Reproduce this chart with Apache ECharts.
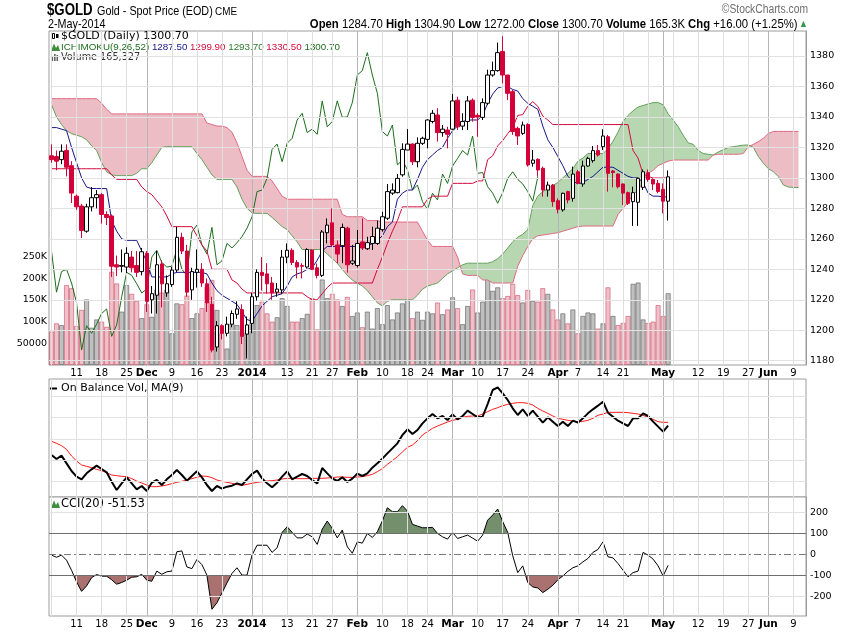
<!DOCTYPE html>
<html><head><meta charset="utf-8">
<script src="https://cdn.jsdelivr.net/npm/echarts@6/dist/echarts.min.js"></script>
<style>html,body{margin:0;padding:0;background:#fff}#c{width:850px;height:633px}</style>
</head><body><div id="c"></div>
<script>
// ---------- categories (trading days incl. future cloud projection) ----------
const dates = [
'2013-11-04','2013-11-05','2013-11-06','2013-11-07','2013-11-08','2013-11-11','2013-11-12','2013-11-13','2013-11-14','2013-11-15',
'2013-11-18','2013-11-19','2013-11-20','2013-11-21','2013-11-22','2013-11-25','2013-11-26','2013-11-27','2013-11-29','2013-12-02',
'2013-12-03','2013-12-04','2013-12-05','2013-12-06','2013-12-09','2013-12-10','2013-12-11','2013-12-12','2013-12-13','2013-12-16',
'2013-12-17','2013-12-18','2013-12-19','2013-12-20','2013-12-23','2013-12-24','2013-12-26','2013-12-27','2013-12-30','2013-12-31',
'2014-01-02','2014-01-03','2014-01-06','2014-01-07','2014-01-08','2014-01-09','2014-01-10','2014-01-13','2014-01-14','2014-01-15',
'2014-01-16','2014-01-17','2014-01-21','2014-01-22','2014-01-23','2014-01-24','2014-01-27','2014-01-28','2014-01-29','2014-01-30',
'2014-01-31','2014-02-03','2014-02-04','2014-02-05','2014-02-06','2014-02-07','2014-02-10','2014-02-11','2014-02-12','2014-02-13',
'2014-02-14','2014-02-18','2014-02-19','2014-02-20','2014-02-21','2014-02-24','2014-02-25','2014-02-26','2014-02-27','2014-02-28',
'2014-03-03','2014-03-04','2014-03-05','2014-03-06','2014-03-07','2014-03-10','2014-03-11','2014-03-12','2014-03-13','2014-03-14',
'2014-03-17','2014-03-18','2014-03-19','2014-03-20','2014-03-21','2014-03-24','2014-03-25','2014-03-26','2014-03-27','2014-03-28',
'2014-03-31','2014-04-01','2014-04-02','2014-04-03','2014-04-04','2014-04-07','2014-04-08','2014-04-09','2014-04-10','2014-04-11',
'2014-04-14','2014-04-15','2014-04-16','2014-04-17','2014-04-21','2014-04-22','2014-04-23','2014-04-24','2014-04-25','2014-04-28',
'2014-04-29','2014-04-30','2014-05-01','2014-05-02','2014-05-05','2014-05-06','2014-05-07','2014-05-08','2014-05-09','2014-05-12',
'2014-05-13','2014-05-14','2014-05-15','2014-05-16','2014-05-19','2014-05-20','2014-05-21','2014-05-22','2014-05-23','2014-05-27',
'2014-05-28','2014-05-29','2014-05-30','2014-06-02','2014-06-03','2014-06-04','2014-06-05','2014-06-06','2014-06-09','2014-06-10',
'2014-06-11'];

// ---------- date axis tick labels ----------
const tickDates = ['2013-11-11','2013-11-18','2013-11-25','2013-12-02','2013-12-09','2013-12-16','2013-12-23','2014-01-02','2014-01-13','2014-01-21',
'2014-01-27','2014-02-03','2014-02-10','2014-02-18','2014-02-24','2014-03-03','2014-03-10','2014-03-17','2014-03-24','2014-04-01',
'2014-04-07','2014-04-14','2014-04-21','2014-05-01','2014-05-12','2014-05-19','2014-05-27','2014-06-02','2014-06-09'];
const tickTexts = ['11','18','25','Dec','9','16','23','2014','13','21','27','Feb','10','18','24','Mar','10','17','24','Apr','7','14','21','May','12','19','27','Jun','9'];
const monthTickTexts = ['Dec','2014','Feb','Mar','Apr','May','Jun'];
const extraWeekLines = ['2013-11-04','2014-01-06','2014-04-28','2014-05-05'];

// ---------- price (OHLC) ----------
const opens = [1314.5,1314,1312,1318,1308,1288,1281.5,1265,1281,1287,
1289,1276,1275,1243,1242,1241.5,1248,1242.5,1238.5,1250.5,
1220,1223,1243.5,1224.5,1230,1239.5,1261,1252,1226.5,1238,
1240,1230.5,1217,1189,1203,1198,1204,1210.5,1213.5,1197.5,
1204.5,1222,1238,1237,1231,1225,1226.5,1248,1252.5,1244.5,
1242.5,1241.5,1252.7,1241,1236,1264,1270.5,1256,1255.5,1267,
1244,1242.5,1258,1253.5,1257,1257,1266,1273.5,1290,1290.3,
1302,1318.3,1322.2,1310.6,1322.7,1325.3,1337,1341.3,1329.7,1331.4,
1332,1351,1334,1337,1351,1341,1339.7,1349,1367.5,1370.4,
1382.9,1367.5,1356.6,1332.5,1329.2,1335,1309.6,1312.2,1306.3,1292,
1295.3,1285,1279,1291,1286.6,1304,1296,1307.8,1311.3,1317.9,
1320.5,1327,1304.5,1302.5,1296,1290.3,1284.4,1284,1293.8,1303.4,
1299,1296.4,1292.5,1284.7];
const highs = [1322,1318,1322,1322,1311,1289,1283,1283,1294,1292,
1290,1278,1276,1249,1253,1254.5,1252,1252,1254,1252,
1229,1252,1246,1236,1241.5,1268,1264,1256,1241,1253,
1244,1234,1222,1206,1204,1209,1213,1219,1217,1209,
1224.5,1240,1248,1244,1235,1231,1252.7,1257,1253.8,1246,
1244,1253.8,1253,1243.8,1265.8,1273.4,1280,1259,1270,1268,
1256,1265.8,1273.4,1261.4,1268,1272,1277.8,1296,1296.4,1302.5,
1322.7,1332,1322.7,1326.6,1327,1338.4,1344.5,1345.7,1334.7,1333.6,
1355,1353.3,1342.4,1353.7,1352.2,1342.4,1352.2,1371,1376.3,1388.8,
1393,1367.5,1357.7,1333.6,1336.9,1335.8,1318.3,1312.8,1307.4,1297.5,
1296,1286.6,1290.3,1291.6,1307.4,1305.2,1311.3,1313.9,1320.9,1321.6,
1331.9,1328.2,1305.2,1303,1296.4,1291,1294.2,1300,1305.5,1305.5,
1299.7,1298.6,1296.4,1304.9];
const lows = [1310,1305,1309,1301,1283.5,1279,1260.5,1264,1278,1280,
1270,1269,1235,1235.5,1238,1237.5,1238,1235,1236,1212,
1211,1211,1215,1222,1228.5,1238,1250,1222,1220,1228,
1228.5,1212,1185.5,1186,1194,1196,1202,1207.5,1191,1181.5,
1198,1219.5,1226,1224,1220,1222,1224,1244,1242.8,1234,
1234,1240.5,1239.5,1234,1235,1257,1254.8,1244,1244,1237.8,
1242.8,1241.3,1252.7,1252.7,1252.7,1256,1264.7,1272.4,1288.8,1289.9,
1300.8,1318.3,1308.5,1306.9,1321.6,1319.4,1335.8,1323.8,1327,1319.4,
1331.4,1331.4,1331.4,1331.4,1336.9,1327,1338,1347.8,1366.4,1369.7,
1362,1351,1328.2,1321.6,1328.2,1307.4,1307.4,1300.8,1287.7,1287.7,
1281.1,1276.7,1277.8,1283.3,1284.4,1296,1294.2,1307.4,1310,1313.9,
1318.3,1291,1293.8,1293.1,1282.2,1282.2,1268.5,1268.5,1292,1297.5,
1292,1289.9,1276.7,1272];
const closes = [1312,1311,1317.5,1307,1290,1281,1265.5,1281,1287,1289,
1276,1274,1242,1241.5,1242.5,1250.5,1241,1238,1251.5,1219,
1224,1243,1230.5,1230.5,1239.5,1261,1252,1225,1238.5,1240,
1231,1218,1187,1203,1198,1204,1211,1214,1196,1203.5,
1222,1238,1236,1230.5,1224.5,1227,1248,1252.5,1244.5,1241.5,
1242,1253,1240,1236,1264.5,1269,1256,1250,1267.5,1243,
1245.5,1257,1254,1257.5,1261.5,1267,1274.5,1291,1292,1299.7,
1318.7,1322.2,1310.6,1322.7,1326,1338,1342.4,1329.7,1332,1328.6,
1350.5,1333.5,1337,1350.5,1339.7,1340,1349.4,1367.5,1370.4,1382.2,
1367.5,1355.5,1330.4,1327.5,1334.7,1308.5,1311.7,1305.2,1292,1295.3,
1284.4,1279.4,1289.9,1285.5,1302.5,1296.4,1307.8,1312.8,1317.9,1315,
1327.5,1303,1303.5,1294.2,1290,1283.3,1290.3,1299.7,1304,1299,
1296,1291,1284.7,1300.7];

// ---------- volume ----------
const volumes = [77000,96000,92000,184000,177000,90000,127000,151000,86000,105000,
100000,88000,215000,188000,123000,184000,164000,148000,108000,140000,
111000,174000,167000,174000,73000,142000,140000,160000,108000,119000,
131000,180000,196000,127000,73000,38000,96000,92000,77000,73000,
110000,138000,146000,119000,100000,110000,154000,136000,100000,100000,
108000,118000,154000,82000,197000,154000,164000,151000,136000,157000,
113000,121000,87000,123000,84000,131000,94000,138000,105000,121000,
142000,174000,108000,123000,104000,123000,119000,144000,117000,128000,
156000,131000,94000,136000,174000,121000,146000,213000,171000,179000,
154000,159000,187000,161000,144000,173000,148000,146000,177000,164000,
128000,105000,119000,96000,128000,73000,113000,121000,119000,84000,
96000,179000,113000,92000,97000,113000,187000,190000,105000,97000,
100000,138000,113000,165327];

// ---------- Ichimoku (9,26,52) ----------
const tenkan = [1333,1333,1332,1331,1320,1310,1300,1294,1293,1293,
1293,1293,1272,1265,1260,1259,1259,1259,1252,1245,
1235,1235,1235,1235,1237,1238,1238,1238,1238,1238,
1238,1237,1231,1226,1223,1221,1219,1217,1212,1207,
1206,1211,1216,1219,1222,1223,1224,1229,1235,1237,
1238,1240,1241,1246,1252,1255,1255,1255,1255,1255,
1255,1255,1255,1255,1257,1259,1262,1268,1271,1286,
1290,1292,1292,1299,1307,1312,1315,1318,1320,1326,
1331,1334,1337,1338,1338,1338,1341,1349,1355,1359,
1360,1360,1358,1357,1352,1349,1347,1345,1334,1325,
1320,1314,1308,1301,1298,1296,1297,1299,1301,1304,
1307,1307,1307,1305,1303,1301,1300,1300,1297,1290,
1288,1288,1287.5,1287.5];
const kijun = [1306,1306,1306,1306,1306,1306,1306,1306,1306,1306,
1306,1306,1302,1299,1299,1299,1299,1299,1294,1291,
1289,1285,1281,1275,1268,1268,1268,1268,1268,1262,
1256,1252,1240,1240,1240,1240,1233,1231,1227,1224.5,
1224.5,1224.5,1224.5,1224.5,1224.5,1224.5,1224.5,1224.5,1224.5,1224.5,
1224.5,1222,1220,1220,1224,1228,1231,1231,1231,1231,
1231,1231,1231,1231,1231,1240,1248,1257,1265,1272,
1281,1281,1281,1281,1281,1286,1288,1288,1288,1288,
1296.4,1296.4,1296.4,1296.4,1296.4,1298,1298,1312,1314.5,1321,
1324.5,1329,1333,1341,1341.5,1347,1350,1347,1340.5,1338,
1335,1335,1335,1335,1335,1335,1335,1335,1335,1335,
1335,1335,1335,1335,1335,1335,1318,1313,1302.5,1301,
1299.9,1299.9,1299.9,1299.9];
const senkouA = [1348,1340,1335,1331,1329,1328,1327,1325,1321,1318,
1310,1304,1302,1301.5,1301.5,1301.5,1301.5,1303,1306,1306,
1310,1315,1320,1320.5,1320.5,1320.5,1320.5,1320.5,1320.5,1316,
1312,1307,1302,1299,1299,1299,1299,1294,1286,1280,
1277,1276.7,1276.7,1276.7,1274,1271,1268,1266,1262,1258,
1253,1253,1253,1253,1253,1250,1247,1244,1240,1236,
1233,1231,1229,1226,1222,1218,1216,1219,1220,1220,
1220,1220,1220,1223,1227,1229,1230,1231,1234,1237,
1239,1241,1243,1244,1244,1244,1244,1244,1245,1247,
1250,1254,1258,1261,1263,1266,1282,1288,1291,1293,
1295,1297,1300,1303,1306,1311,1313,1316,1316,1316,
1316,1319,1324,1330,1337,1341,1344,1346.5,1347.5,1348.5,
1349.4,1349.4,1348,1342,1338,1333.6,1328,1323,1322,1318,
1316,1315.5,1315,1317,1318.5,1320,1320.5,1321,1321.5,1321.6,
1320,1314,1309.6,1306,1304,1300.8,1295.3,1294,1293.7,1293.7];
const senkouB = [1352,1352,1352,1352,1352,1352,1352,1352,1352,1352,
1349,1345,1342,1342,1342,1342,1342,1342,1342,1342,
1342,1342,1342,1342,1342,1342,1342,1342,1342,1342,
1342,1336,1335,1334,1334,1333,1330,1323,1314,1305,
1301,1301,1301,1301,1298,1293,1288,1286,1286,1286,
1286,1286,1286,1286,1286,1286,1286,1286,1276,1274.5,
1274.5,1274.5,1274.5,1272,1272,1272,1271,1271,1271,1271,
1271,1271,1271,1271,1265,1259,1255,1255,1255,1255,
1255,1248,1237,1236,1236,1236,1233,1233,1231,1231,
1231,1231,1231,1242,1249,1255,1260,1262,1262.5,1263,
1263.5,1264,1265,1266,1267,1268,1268.4,1268.4,1268.4,1268.4,
1268.4,1268.4,1268.4,1276,1280,1284,1289,1292,1297,1303,
1305,1308,1309.5,1311,1311.7,1311.7,1311.7,1311.7,1311.7,1311.7,
1311.7,1311.7,1315,1315.5,1315.5,1315.5,1315.5,1315.5,1316,1320.5,
1322,1323.8,1326,1329.2,1330.5,1330.5,1330.5,1330.5,1330.5,1330.5];
const chikouShift = 26;

// ---------- On Balance Volume and MA(9) (relative units) ----------
const obv = [315,303,313,290,267,250,242,260,272,283,
273,263,235,210,230,248,230,212,222,207,
232,240,225,242,255,270,255,238,252,266,
248,225,207,222,214,220,223,230,225,242,
258,268,245,230,218,232,250,266,242,250,
258,252,240,230,276,260,245,237,248,234,
244,259,252,260,277,290,304,320,335,350,
375,392,378,390,410,425,438,425,432,420,
437,422,432,448,438,428,430,468,510,518,
500,480,455,435,452,432,448,430,412,428,
415,402,415,402,418,412,425,440,452,463,
475,442,430,418,410,402,425,425,440,432,
415,400,385,403];
const obvMA = [356,350,343,332,312,297,285,281,277,272,
268,262,255,253,251,250,244,237,231,225,
220,220,222,225,229,233,236,240,244,248,
252,251,247,240,236,233,230,226,224,227,
230,233,235,237,238,240,243,245,245,244,
244,244,245,245,245,246,247,249,249,248,
248,249,250,253,257,265,274,287,298,310,
324,338,345,358,375,385,395,402,408,414,
419,422,428,431,432,432,438,445,452,457,
463,467,470,472,472,470,465,455,447,440,
432,425,422,419,417,415,416,419,425,434,
438,443,443,443,443,442,440,438,434,428,
422,415,413,413];
const obvGridValues = [235,299,363,427,491];

// ---------- CCI(20) ----------
const cci = [-3,-13,-3,-27,-75,-130,-175,-149,-110,-95,
-103,-103,-120,-141,-133,-122,-108,-106,-94,-122,
-127,-79,-94,-82,-79,13,17,-59,-67,-24,
-48,-98,-260,-229,-183,-135,-90,-63,-98,-98,
-3,44,44,44,10,32,105,132,105,79,
79,97,84,48,120,159,124,79,116,37,
6,60,54,100,81,108,160,222,203,203,
232,206,143,135,127,127,129,100,84,73,
105,76,84,92,78,63,92,163,187,216,
156,105,-6,-86,-54,-133,-154,-159,-181,-165,
-146,-120,-102,-80,-63,-54,-35,-19,10,24,
60,-11,-16,-43,-75,-106,-86,-79,10,-3,
-22,-54,-102,-51.53];

// ---------- axis tick labels ----------
const priceTicks = [1180,1200,1220,1240,1260,1280,1300,1320,1340,1360,1380];
const volumeTicks = [50000,100000,150000,200000,250000];
const cciTicks = [-200,-100,0,100,200];

// ================= rendering =================
const RED = '#d3003a';
const PINK_FILL = '#ecbdc5', GREEN_FILL = '#b6d7b0';
const FONT = 'DejaVu Sans';
const chart = echarts.init(document.getElementById('c'), null, {renderer: 'canvas'});

const tickSet = new Set(tickDates);
const monthLineDates = tickDates.filter((d, k) => monthTickTexts.includes(tickTexts[k]));
const weekLineDates = tickDates.filter((d, k) => !monthTickTexts.includes(tickTexts[k])).concat(extraWeekLines);

function vLines() {
  const out = [];
  weekLineDates.forEach(d => out.push({xAxis: d, lineStyle: {color: '#dedede', width: 1, type: 'solid'}}));
  monthLineDates.forEach(d => out.push({xAxis: d, lineStyle: {color: '#b5b5b5', width: 1, type: 'solid'}}));
  return out;
}
function gridHost(xi, yi, hLines) {
  return {
    type: 'line', xAxisIndex: xi, yAxisIndex: yi, data: dates.map(() => null), silent: true, z: 0,
    symbol: 'none', lineStyle: {width: 0},
    markLine: {silent: true, symbol: ['none', 'none'], label: {show: false}, animation: false,
      emphasis: {disabled: true}, data: vLines().concat(hLines)}
  };
}

const candleData = opens.map((o, i) => {
  const up = closes[i] >= o;
  const st = up ? {color: '#ffffff', color0: '#ffffff', borderColor: '#000000', borderColor0: '#000000'}
                : {color: RED, color0: RED, borderColor: RED, borderColor0: RED};
  return {value: [o, closes[i], lows[i], highs[i]], itemStyle: st};
});
const volumeData = volumes.map((v, i) => {
  const down = i === 0 ? closes[0] < opens[0] : closes[i] < closes[i - 1];
  return {value: v, itemStyle: down
    ? {color: 'rgba(214,80,104,0.36)', borderColor: 'rgba(200,70,95,0.7)', borderWidth: 0.8}
    : {color: 'rgba(110,110,110,0.43)', borderColor: 'rgba(90,90,90,0.75)', borderWidth: 0.8}};
});

function cloudRender(params, api) {
  const children = [];
  let ptsA = [], ptsB = [], sign = null;
  const flush = () => {
    if (ptsA.length > 1) children.push({type: 'polygon', shape: {points: ptsA.concat(ptsB.slice().reverse())},
      style: {fill: sign >= 0 ? GREEN_FILL : PINK_FILL}});
  };
  for (let i = 0; i < senkouA.length; i++) {
    const a = api.coord([i, senkouA[i]]), b = api.coord([i, senkouB[i]]);
    const d = senkouA[i] - senkouB[i];
    const s = d > 0 ? 1 : (d < 0 ? -1 : 0);
    if (sign === null) { sign = s || 1; ptsA.push(a); ptsB.push(b); continue; }
    if (s !== 0 && s !== sign) {
      const dp = senkouA[i - 1] - senkouB[i - 1];
      const t = dp / (dp - d);
      const pa = ptsA[ptsA.length - 1];
      const c = [pa[0] + t * (a[0] - pa[0]), pa[1] + t * (a[1] - pa[1])];
      ptsA.push(c); ptsB.push(c);
      flush();
      ptsA = [c]; ptsB = [c]; sign = s;
    }
    ptsA.push(a); ptsB.push(b);
  }
  flush();
  return {type: 'group', children};
}

function threshPolys(api, arr, T, above) {
  const polys = []; let cur = null;
  const yT = api.coord([0, T])[1];
  const inside = v => above ? v > T : v < T;
  for (let i = 0; i < arr.length; i++) {
    const v = arr[i], p = api.coord([i, v]);
    if (inside(v)) {
      if (!cur) {
        if (i > 0) {
          const vp = arr[i - 1], pp = api.coord([i - 1, vp]);
          const t = (T - vp) / (v - vp);
          cur = [[pp[0] + t * (p[0] - pp[0]), yT]];
        } else cur = [[p[0], yT]];
      }
      cur.push(p);
    } else if (cur) {
      const vp = arr[i - 1], pp = api.coord([i - 1, vp]);
      const t = (T - vp) / (v - vp);
      cur.push([pp[0] + t * (p[0] - pp[0]), yT]);
      polys.push(cur); cur = null;
    }
  }
  if (cur) { cur.push([cur[cur.length - 1][0], yT]); polys.push(cur); }
  return polys;
}

const xLabel = {
  interval: (idx, val) => tickSet.has(val),
  formatter: val => { const t = tickTexts[tickDates.indexOf(val)]; return monthTickTexts.includes(t) ? '{b|' + t + '}' : t; },
  rich: {b: {fontWeight: 'bold', fontSize: 10.5, fontFamily: FONT, color: '#000'}},
  fontSize: 10, color: '#000', margin: 3, fontFamily: FONT
};
function xAxisFor(gi, withLabels) {
  return {type: 'category', gridIndex: gi, data: dates, boundaryGap: true,
    axisLine: {show: false}, axisTick: {show: false}, splitLine: {show: false},
    axisLabel: withLabels ? xLabel : {show: false}};
}

const L = 49, W = 757;
const option = {
  animation: false,
  backgroundColor: '#ffffff',
  textStyle: {fontFamily: FONT},
  grid: [
    {left: L, top: 31, width: W, height: 334, show: true, borderColor: '#9c9c9c', borderWidth: 1, backgroundColor: '#fff'},
    {left: L, top: 379, width: W, height: 118, show: true, borderColor: '#9c9c9c', borderWidth: 1, backgroundColor: '#fff'},
    {left: L, top: 497, width: W, height: 119, show: true, borderColor: '#9c9c9c', borderWidth: 1, backgroundColor: '#fff'}
  ],
  xAxis: [xAxisFor(0, true), xAxisFor(1, false), xAxisFor(2, true)],
  yAxis: [
    {type: 'value', gridIndex: 0, position: 'right', min: 1177.2, max: 1396.4,
      axisLine: {show: true, lineStyle: {color: '#9c9c9c'}}, axisTick: {show: false}, splitLine: {show: false},
      axisLabel: {customValues: priceTicks, fontSize: 9.5, color: '#000', margin: 4, fontFamily: FONT,
        formatter: v => String(v)}},
    {type: 'value', gridIndex: 0, position: 'left', min: 0, max: 769600,
      axisLine: {show: false}, axisTick: {show: false}, splitLine: {show: false},
      axisLabel: {customValues: volumeTicks, fontSize: 9.5, color: '#000', margin: 2, fontFamily: FONT,
        formatter: v => v === 50000 ? '50000' : (v / 1000) + 'K'}},
    {type: 'value', gridIndex: 1, min: 189, max: 543, axisLine: {show: false}, axisTick: {show: false},
      splitLine: {show: false}, axisLabel: {show: false}},
    {type: 'value', gridIndex: 2, position: 'right', min: -292, max: 273,
      axisLine: {show: true, lineStyle: {color: '#9c9c9c'}}, axisTick: {show: false}, splitLine: {show: false},
      axisLabel: {customValues: cciTicks, fontSize: 9.5, color: '#000', margin: 4, fontFamily: FONT,
        formatter: v => String(v)}}
  ],
  series: [
    gridHost(0, 0, priceTicks.map(v => ({yAxis: v, lineStyle: {color: '#e2e2e2', width: 1, type: 'solid'}}))),
    gridHost(1, 2, obvGridValues.map(v => ({yAxis: v, lineStyle: {color: '#e2e2e2', width: 1, type: 'solid'}}))),
    gridHost(2, 3, [
      {yAxis: 200, lineStyle: {color: '#e2e2e2', width: 1, type: 'solid'}},
      {yAxis: -200, lineStyle: {color: '#e2e2e2', width: 1, type: 'solid'}},
      {yAxis: 100, lineStyle: {color: '#6e6e6e', width: 1, type: 'solid'}},
      {yAxis: -100, lineStyle: {color: '#6e6e6e', width: 1, type: 'solid'}},
      {yAxis: 0, lineStyle: {color: '#7a7a7a', width: 1, type: [7, 3, 2, 3]}}
    ]),
    {name: 'Volume', type: 'bar', xAxisIndex: 0, yAxisIndex: 1, data: volumeData, barWidth: 5, z: 1, silent: true},
    {name: 'Cloud', type: 'custom', xAxisIndex: 0, yAxisIndex: 0, data: [[0, 1300]], renderItem: cloudRender, z: 2, silent: true, clip: true},
    {name: 'Senkou A', type: 'line', xAxisIndex: 0, yAxisIndex: 0, data: senkouA, symbol: 'none', z: 3,
      lineStyle: {color: '#64a25c', width: 1}},
    {name: 'Senkou B', type: 'line', xAxisIndex: 0, yAxisIndex: 0, data: senkouB, symbol: 'none', z: 3,
      lineStyle: {color: '#e06a83', width: 1}},
    {name: 'Chikou', type: 'line', xAxisIndex: 0, yAxisIndex: 0, data: closes.slice(chikouShift), symbol: 'none', z: 4,
      lineStyle: {color: '#1d6e1d', width: 1}},
    {name: 'Kijun', type: 'line', xAxisIndex: 0, yAxisIndex: 0, data: kijun, symbol: 'none', z: 4,
      lineStyle: {color: '#d40a3c', width: 1}},
    {name: 'Tenkan', type: 'line', xAxisIndex: 0, yAxisIndex: 0, data: tenkan, symbol: 'none', z: 4,
      lineStyle: {color: '#16168a', width: 1}},
    {name: '$GOLD', type: 'candlestick', xAxisIndex: 0, yAxisIndex: 0, data: candleData, barWidth: 4, z: 5,
      itemStyle: {borderWidth: 1}},
    {name: 'OBV', type: 'line', xAxisIndex: 1, yAxisIndex: 2, data: obv, symbol: 'none', z: 4,
      lineStyle: {color: '#000', width: 2}},
    {name: 'OBV MA', type: 'line', xAxisIndex: 1, yAxisIndex: 2, data: obvMA, symbol: 'none', z: 3,
      lineStyle: {color: '#ff1a1a', width: 1}},
    {name: 'CCI fill', type: 'custom', xAxisIndex: 2, yAxisIndex: 3, data: [[0, 0]], z: 2, silent: true, clip: true,
      renderItem: (params, api) => ({type: 'group', children:
        threshPolys(api, cci, 100, true).map(p => ({type: 'polygon', shape: {points: p}, style: {fill: '#748f6c'}}))
        .concat(threshPolys(api, cci, -100, false).map(p => ({type: 'polygon', shape: {points: p}, style: {fill: '#a9716f'}})))})},
    {name: 'CCI', type: 'line', xAxisIndex: 2, yAxisIndex: 3, data: cci, symbol: 'none', z: 4,
      lineStyle: {color: '#000', width: 1}}
  ],
  graphic: [
    {type: 'text', x: 47, y: 10, scaleX: 0.78, style: {text: '$GOLD', font: 'bold 17px "Liberation Sans"', fill: '#000', verticalAlign: 'middle'}},
    {type: 'text', x: 97, y: 11, scaleX: 0.83, style: {text: 'Gold - Spot Price (EOD)', font: '13px "Liberation Sans"', fill: '#000', verticalAlign: 'middle'}},
    {type: 'text', x: 215, y: 12, scaleX: 0.9, style: {text: 'CME', font: '11px "Liberation Sans"', fill: '#000', verticalAlign: 'middle'}},
    {type: 'text', x: 48, y: 24, scaleX: 0.83, style: {text: '2-May-2014', font: '13px "Liberation Sans"', fill: '#000', verticalAlign: 'middle'}},
    {type: 'text', x: 808, y: 10, scaleX: 0.86, style: {text: '\u00A9StockCharts.com', font: '12px "Liberation Sans"', fill: '#6e6e6e', align: 'right', verticalAlign: 'middle'}},
    {type: 'text', x: 806, y: 24, scaleX: 0.87, style: {
      text: '{b|Open} {n|1284.70} {b|High} {n|1304.90} {b|Low} {n|1272.00} {b|Close} {n|1300.70} {b|Volume} {n|165.3K} {b|Chg} {n|+16.00 (+1.25%)} {g|\u25B2}',
      font: '13px "Liberation Sans"', fill: '#000', align: 'right', verticalAlign: 'middle',
      rich: {b: {fontFamily: 'Liberation Sans', fontSize: 13, fontWeight: 'bold', fill: '#000'},
             n: {fontFamily: 'Liberation Sans', fontSize: 13, fill: '#000'},
             g: {fontFamily: 'DejaVu Sans', fontSize: 8, fill: '#2e9a4a'}}}},
    // legend: price panel
    {type: 'rect', shape: {x: 52.5, y: 33.5, width: 2, height: 5}, style: {fill: '#fff', stroke: '#000', lineWidth: 1}},
    {type: 'rect', shape: {x: 56, y: 34, width: 2.5, height: 4}, style: {fill: '#000'}},
    {type: 'text', x: 61, y: 36.5, style: {text: '$GOLD (Daily) 1300.70', font: '11px "DejaVu Sans"', fill: '#000', verticalAlign: 'middle'}},
    {type: 'polygon', shape: {points: [[51, 51], [54, 43.5], [56, 48], [58, 45], [60, 51]]}, style: {fill: '#3f8f3f'}},
    {type: 'text', x: 61, y: 47.5, style: {
      text: '{a|ICHIMOKU(9,26,52)} {t|1287.50} {k|1299.90} {sa|1293.70} {sb|1330.50} {c|1300.70}',
      font: '9.8px "Liberation Sans"', verticalAlign: 'middle',
      rich: {a: {fill: '#1b6e1b', fontFamily: 'Liberation Sans', fontSize: 9.8},
             t: {fill: '#16168a', fontFamily: 'Liberation Sans', fontSize: 9.8},
             k: {fill: '#d40a3c', fontFamily: 'Liberation Sans', fontSize: 9.8},
             sa: {fill: '#2a7a2a', fontFamily: 'Liberation Sans', fontSize: 9.8},
             sb: {fill: '#d40a3c', fontFamily: 'Liberation Sans', fontSize: 9.8},
             c: {fill: '#1b6e1b', fontFamily: 'Liberation Sans', fontSize: 9.8}}}},
    {type: 'rect', shape: {x: 51.5, y: 56, width: 1.6, height: 5}, style: {fill: '#666'}},
    {type: 'rect', shape: {x: 54, y: 54, width: 1.6, height: 7}, style: {fill: '#666'}},
    {type: 'rect', shape: {x: 56.5, y: 55, width: 1.6, height: 6}, style: {fill: '#666'}},
    {type: 'text', x: 61, y: 57.5, style: {text: 'Volume 165,327', font: '9.7px "DejaVu Sans"', fill: '#333', verticalAlign: 'middle'}},
    // legend: OBV panel
    {type: 'line', shape: {x1: 50, y1: 388.5, x2: 57, y2: 388.5}, style: {stroke: '#000', lineWidth: 2}},
    {type: 'text', x: 61, y: 388.5, style: {text: 'On Balance Vol, MA(9)', font: '11px "DejaVu Sans"', fill: '#000', verticalAlign: 'middle'}},
    // legend: CCI panel
    {type: 'polygon', shape: {points: [[51, 508], [54, 500.5], [56, 505], [58, 502], [60, 508]]}, style: {fill: '#3f8f3f'}},
    {type: 'text', x: 61, y: 504.5, style: {text: 'CCI(20) -51.53', font: '11.5px "DejaVu Sans"', fill: '#000', verticalAlign: 'middle'}}
  ]
};
chart.setOption(option);
</script>
</body></html>
